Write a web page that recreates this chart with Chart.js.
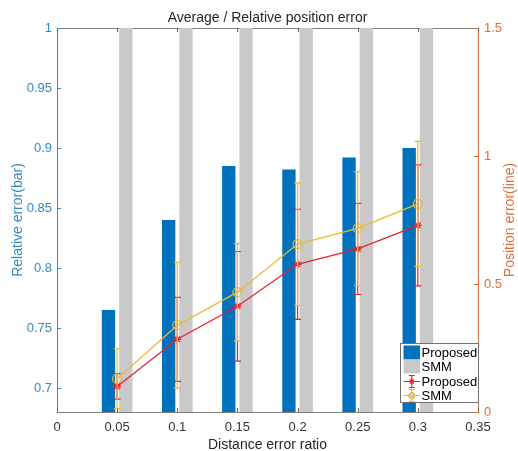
<!DOCTYPE html>
<html>
<head>
<meta charset="utf-8">
<title>Average / Relative position error</title>
<script src="https://cdn.jsdelivr.net/npm/chart.js@4.4.1/dist/chart.umd.min.js"></script>
<style>
    html, body { margin: 0; padding: 0; background: #fff; }
    #chart { display: block; }
</style>
</head>
<body>
<canvas id="chart" width="518" height="451"></canvas>
<script>
// distance error ratio (x)
const ratios = [0.05, 0.1, 0.15, 0.2, 0.25, 0.3];

// relative error (bars, left axis)
const relProposed = [0.765, 0.840, 0.885, 0.882, 0.892, 0.900];
const relSMM = [1, 1, 1, 1, 1, 1];

// position error (lines, right axis) with +/- error
const posProposed = [0.100, 0.284, 0.413, 0.577, 0.637, 0.729];
const posProposedErr = [0.050, 0.164, 0.214, 0.215, 0.178, 0.236];
const posSMM = [0.130, 0.339, 0.468, 0.656, 0.717, 0.813];
const posSMMErr = [0.117, 0.246, 0.190, 0.239, 0.222, 0.244];

// tick labels
const xTicks = [0, 0.05, 0.1, 0.15, 0.2, 0.25, 0.3, 0.35];
const leftTicks = [0.7, 0.75, 0.8, 0.85, 0.9, 0.95, 1];
const rightTicks = [0, 0.5, 1, 1.5];

const BLUE_AXIS = '#3489C3';
const ORANGE_AXIS = '#D8703C';
const BAR_BLUE = '#0072BD';
const BAR_GRAY = '#C9C9C9';
const RED = '#E8222B';
const YELLOW = '#EDB92E';

Chart.defaults.font.family = '"Liberation Sans", Arial, Helvetica, sans-serif';
Chart.defaults.font.size = 13;

const toPoints = (xs, ys) => xs.map((x, i) => ({ x: x, y: ys[i] }));

// draws vertical error bars for line datasets that carry an "errors" array
const errorBarPlugin = {
    id: 'errorBars',
    afterDatasetDraw(chart, args) {
        const ds = chart.data.datasets[args.index];
        if (!ds.errors) return;
        const yScale = chart.scales[ds.yAxisID];
        const ctx = chart.ctx;
        ctx.save();
        ctx.strokeStyle = ds.borderColor;
        ctx.lineWidth = 1.2;
        args.meta.data.forEach((pt, i) => {
            const v = ds.data[i].y;
            const e = ds.errors[i];
            const top = yScale.getPixelForValue(v + e);
            const bottom = yScale.getPixelForValue(v - e);
            ctx.beginPath();
            ctx.moveTo(pt.x, top);
            ctx.lineTo(pt.x, bottom);
            ctx.moveTo(pt.x - 3.5, top);
            ctx.lineTo(pt.x + 3.5, top);
            ctx.moveTo(pt.x - 3.5, bottom);
            ctx.lineTo(pt.x + 3.5, bottom);
            ctx.stroke();
        });
        ctx.restore();
    }
};

// MATLAB-like box: top line and inward ticks
const axesBoxPlugin = {
    id: 'axesBox',
    beforeDatasetsDraw(chart) {
        const { ctx, chartArea: a, scales } = chart;
        ctx.save();
        ctx.lineWidth = 1;
        ctx.strokeStyle = '#808080';
        ctx.beginPath();
        ctx.moveTo(a.left, a.top + 0.5);
        ctx.lineTo(a.right, a.top + 0.5);
        ctx.stroke();

        ctx.strokeStyle = '#606060';
        ctx.beginPath();
        xTicks.forEach(v => {
            const x = Math.round(scales.x.getPixelForValue(v)) + 0.5;
            ctx.moveTo(x, a.bottom);
            ctx.lineTo(x, a.bottom - 4);
            ctx.moveTo(x, a.top);
            ctx.lineTo(x, a.top + 4);
        });
        ctx.stroke();

        ctx.strokeStyle = BLUE_AXIS;
        ctx.beginPath();
        leftTicks.forEach(v => {
            const y = Math.round(scales.y.getPixelForValue(v)) + 0.5;
            ctx.moveTo(a.left, y);
            ctx.lineTo(a.left + 4, y);
        });
        ctx.stroke();

        ctx.strokeStyle = ORANGE_AXIS;
        ctx.beginPath();
        rightTicks.forEach(v => {
            const y = Math.round(scales.y1.getPixelForValue(v)) + 0.5;
            ctx.moveTo(a.right, y);
            ctx.lineTo(a.right - 4, y);
        });
        ctx.stroke();
        ctx.restore();
    }
};

// title, right axis title and legend box
const decorPlugin = {
    id: 'decor',
    afterDraw(chart) {
        const { ctx, chartArea: a } = chart;
        const font = '14px "Liberation Sans", Arial, sans-serif';
        ctx.save();
        ctx.font = font;
        ctx.fillStyle = '#262626';
        ctx.textAlign = 'center';
        ctx.textBaseline = 'middle';
        ctx.fillText('Average / Relative position error', (a.left + a.right) / 2, 18.5);

        ctx.save();
        ctx.translate(510, (a.top + a.bottom) / 2);
        ctx.rotate(-Math.PI / 2);
        ctx.fillStyle = ORANGE_AXIS;
        ctx.fillText('Position error(line)', 0, 0);
        ctx.restore();

        // legend
        const lx = 400.5, ly = 343.5, lw = 78, lh = 59;
        ctx.fillStyle = '#fff';
        ctx.fillRect(lx, ly, lw, lh);
        ctx.strokeStyle = '#707070';
        ctx.lineWidth = 1;
        ctx.strokeRect(lx, ly, lw, lh);

        const rows = [352.5, 366.5, 381.5, 395.5];
        const ix0 = 403.5, ix1 = 420;
        ctx.fillStyle = BAR_BLUE;
        ctx.fillRect(ix0, rows[0] - 7, ix1 - ix0, 14);
        ctx.fillStyle = BAR_GRAY;
        ctx.fillRect(ix0, rows[1] - 7, ix1 - ix0, 14);

        [[RED, rows[2], 'star'], [YELLOW, rows[3], 'circle']].forEach(([c, y, shape]) => {
            const cx = (ix0 + ix1) / 2;
            ctx.strokeStyle = c;
            ctx.lineWidth = 1.2;
            ctx.beginPath();
            ctx.moveTo(ix0, y);
            ctx.lineTo(ix1, y);
            ctx.moveTo(cx, y - 6);
            ctx.lineTo(cx, y + 6);
            ctx.moveTo(cx - 3, y - 6);
            ctx.lineTo(cx + 3, y - 6);
            ctx.moveTo(cx - 3, y + 6);
            ctx.lineTo(cx + 3, y + 6);
            ctx.stroke();
            Chart.helpers.drawPoint(ctx, { pointStyle: shape, radius: 3, borderWidth: 1.2 }, cx, y);
        });

        ctx.font = '13px "Liberation Sans", Arial, sans-serif';
        ctx.fillStyle = '#000';
        ctx.textAlign = 'left';
        ['Proposed', 'SMM', 'Proposed', 'SMM'].forEach((t, i) => {
            ctx.fillText(t, 421.5, rows[i] + 0.5);
        });
        ctx.restore();
    }
};

new Chart(document.getElementById('chart'), {
    type: 'bar',
    data: {
        datasets: [
            {
                type: 'bar',
                label: 'Proposed',
                data: toPoints(ratios, relProposed),
                backgroundColor: BAR_BLUE,
                yAxisID: 'y',
                order: 3,
                categoryPercentage: 0.576,
                barPercentage: 0.77,
                clip: 0
            },
            {
                type: 'bar',
                label: 'SMM',
                data: toPoints(ratios, relSMM),
                backgroundColor: BAR_GRAY,
                yAxisID: 'y',
                order: 4,
                categoryPercentage: 0.576,
                barPercentage: 0.77,
                clip: 0
            },
            {
                type: 'line',
                label: 'Proposed',
                data: toPoints(ratios, posProposed),
                errors: posProposedErr,
                borderColor: RED,
                backgroundColor: RED,
                borderWidth: 1.3,
                pointStyle: 'star',
                pointRadius: 4,
                pointBorderWidth: 1.3,
                yAxisID: 'y1',
                order: 2
            },
            {
                type: 'line',
                label: 'SMM',
                data: toPoints(ratios, posSMM),
                errors: posSMMErr,
                borderColor: YELLOW,
                backgroundColor: 'rgba(0,0,0,0)',
                borderWidth: 1.3,
                pointStyle: 'circle',
                pointRadius: 4.5,
                pointBorderWidth: 1.2,
                yAxisID: 'y1',
                order: 1
            }
        ]
    },
    options: {
        responsive: false,
        animation: false,
        layout: { padding: { top: 28, left: 0, right: 0, bottom: 0 } },
        plugins: {
            legend: { display: false },
            title: { display: false },
            tooltip: { enabled: false }
        },
        scales: {
            x: {
                type: 'linear',
                offset: false,
                min: 0,
                max: 0.35,
                grid: { display: false, offset: false, drawTicks: false },
                border: { display: true, color: '#808080' },
                afterBuildTicks: s => { s.ticks = xTicks.map(v => ({ value: v })); },
                afterFit: s => { s.height = 39; },
                ticks: { color: '#333', padding: 8, maxRotation: 0, callback: v => String(v) },
                title: {
                    display: true,
                    text: 'Distance error ratio',
                    color: '#262626',
                    font: { size: 14 },
                    padding: { top: 0, bottom: -3 }
                }
            },
            y: {
                type: 'linear',
                position: 'left',
                min: 0.68,
                max: 1,
                grid: { display: false, drawTicks: false },
                border: { display: true, color: BLUE_AXIS },
                afterBuildTicks: s => { s.ticks = leftTicks.map(v => ({ value: v })); },
                afterFit: s => { s.width = 57; },
                ticks: { color: BLUE_AXIS, padding: 5, callback: v => String(v) },
                title: {
                    display: true,
                    text: 'Relative error(bar)',
                    color: BLUE_AXIS,
                    font: { size: 14 },
                    padding: { top: 10, bottom: 0 }
                }
            },
            y1: {
                type: 'linear',
                position: 'right',
                min: 0,
                max: 1.5,
                grid: { display: false, drawTicks: false },
                border: { display: true, color: ORANGE_AXIS },
                afterBuildTicks: s => { s.ticks = rightTicks.map(v => ({ value: v })); },
                afterFit: s => { s.width = 40; },
                ticks: { color: ORANGE_AXIS, padding: 6, callback: v => String(v) }
            }
        }
    },
    plugins: [axesBoxPlugin, errorBarPlugin, decorPlugin]
});
</script>
</body>
</html>
